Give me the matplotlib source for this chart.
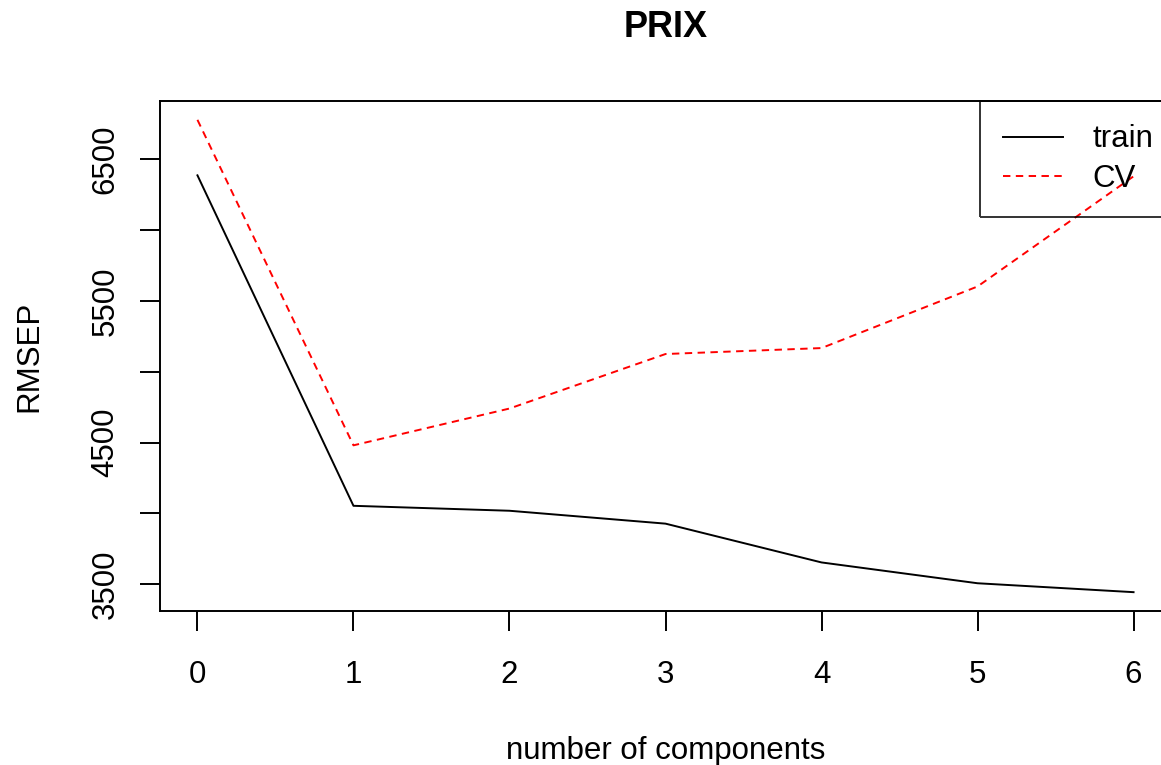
import numpy
from matplotlib import pyplot as plt

plt.rcParams['font.family'] = ['Liberation Sans', 'DejaVu Sans']

# valeurs
components = [0, 1, 2, 3, 4, 5, 6]
rmsep_train = [6388, 4054, 4019, 3928, 3654, 3507, 3444]
rmsep_cv = [6780, 4481, 4741, 5126, 5168, 5603, 6381]
y_ticks = [3500, 4000, 4500, 5000, 5500, 6000, 6500]
y_labels = ["3500", "", "4500", "", "5500", "", "6500"]


def main() -> None:
    fig = plt.figure(figsize=(11.61, 7.65), dpi=100)
    ax = fig.add_axes([160 / 1161, 154 / 765, 1011 / 1161, 510 / 765])

    ax.plot(components, rmsep_train, color="black", lw=1.4, label="train")
    ax.plot(components, rmsep_cv, color="red", lw=1.4, linestyle=(0, (3.8, 2.8)), label="CV")

    ax.set_xlim(-0.24, 6.24)
    ax.set_ylim(3311, 6913)
    ax.set_xticks(components)
    ax.set_yticks(y_ticks)
    ax.set_yticklabels(y_labels, rotation=90, va="center")
    ax.tick_params(direction="out", length=14.4, width=1.4, labelsize=22.5, pad=14)
    ax.tick_params(axis="x", pad=21)
    for s in ax.spines.values():
        s.set_linewidth(1.4)

    ax.set_xlabel("number of components", fontsize=22.5, labelpad=33)
    ax.set_ylabel("RMSEP", fontsize=22.5, labelpad=33)
    ax.set_title("PRIX", fontsize=26, fontweight="bold", pad=46)

    leg = ax.legend(loc="upper left", bbox_to_anchor=(980 / 1161, 664 / 765),
                    bbox_transform=fig.transFigure, fontsize=22.5, frameon=True,
                    fancybox=False, handlelength=1.9, borderaxespad=0, borderpad=0.75,
                    labelspacing=0.3, handletextpad=0.95)
    leg.get_frame().set_edgecolor("black")
    leg.get_frame().set_linewidth(1.4)
    leg.get_frame().set_facecolor("none")

    fig.savefig("out.png", dpi=100)


if __name__ == '__main__':
    main()
